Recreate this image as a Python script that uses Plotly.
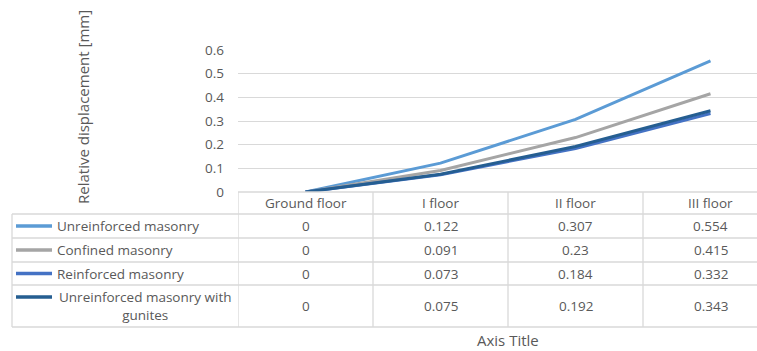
import plotly.graph_objects as go

categories = ["Ground floor", "I floor", "II floor", "III floor"]
series_names = ["Unreinforced masonry", "Confined masonry", "Reinforced masonry",
                "Unreinforced masonry with<br>gunites"]
unreinforced = [0, 0.122, 0.307, 0.554]
confined = [0, 0.091, 0.23, 0.415]
reinforced = [0, 0.073, 0.184, 0.332]
gunites = [0, 0.075, 0.192, 0.343]
table_labels = [["0", "0.122", "0.307", "0.554"],
                ["0", "0.091", "0.23", "0.415"],
                ["0", "0.073", "0.184", "0.332"],
                ["0", "0.075", "0.192", "0.343"]]
y_ticks = [0, 0.1, 0.2, 0.3, 0.4, 0.5, 0.6]
y_tick_labels = ["0", "0.1", "0.2", "0.3", "0.4", "0.5", "0.6"]

W, H = 757, 351
colors = ["#5B9BD5", "#A5A5A5", "#4472C4", "#255E91"]
FONT = "Open Sans"
TXT = "#595959"
GRID = "#D9D9D9"
FS = 13.5
FS_TITLE = 15

def px(x):
    return x / W

def py(y):
    return 1 - y / H

fig = go.Figure()
all_series = [unreinforced, confined, reinforced, gunites]
for name, vals, c in zip(series_names, all_series, colors):
    fig.add_trace(go.Scatter(x=list(range(len(categories))), y=vals, mode="lines",
                             line=dict(color=c, width=3), name=name, showlegend=False))

plot_left, plot_top, plot_bottom = 238, 50, 192
unit = 135
x_right = -0.5 + (W - plot_left) / unit

fig.update_layout(
    width=W, height=H, margin=dict(l=0, r=0, t=0, b=0, autoexpand=False),
    paper_bgcolor="white", plot_bgcolor="white",
    font=dict(family=FONT, color=TXT, size=FS),
    xaxis=dict(domain=[px(plot_left), 1], range=[-0.5, x_right], showticklabels=False,
               showgrid=False, zeroline=False, showline=False, fixedrange=True,
               automargin=False),
    yaxis=dict(domain=[py(plot_bottom), py(plot_top)], range=[0, 0.6],
               tickvals=y_ticks, ticktext=y_tick_labels, showgrid=True, gridcolor=GRID,
               gridwidth=1.3, zeroline=False, showline=False, ticks="", automargin=False,
               ticklabelstandoff=13, tickfont=dict(size=FS, color=TXT, family=FONT)),
)

row_edges = [214, 238, 262, 285, 327]
shapes = []
line_style = dict(color=GRID, width=1.3)
shapes.append(dict(type="line", xref="x", yref="paper", x0=-0.5, x1=x_right + 1,
                   y0=py(192), y1=py(192), line=line_style))
for ry in row_edges:
    shapes.append(dict(type="line", xref="paper", yref="paper", x0=px(12), x1=1.05,
                       y0=py(ry), y1=py(ry), line=line_style))
shapes.append(dict(type="line", xref="paper", yref="paper", x0=px(12), x1=px(12),
                   y0=py(214), y1=py(327), line=line_style))
for i in range(len(categories)):
    shapes.append(dict(type="line", xref="x", yref="paper", x0=i - 0.5, x1=i - 0.5,
                       y0=py(192), y1=py(327), line=line_style))

row_centers = [226, 250, 273.5, 306]
annotations = []

def ann(x, y, text, xref="paper", xanchor="center", size=FS, **kw):
    annotations.append(dict(x=x, y=y, xref=xref, yref="paper", text=text, showarrow=False,
                            xanchor=xanchor, yanchor="middle",
                            font=dict(size=size, color=TXT, family=FONT), **kw))

for i, cat in enumerate(categories):
    ann(i, py(203), cat, xref="x")
for r, row in enumerate(table_labels):
    for i, t in enumerate(row):
        ann(i, py(row_centers[r]), t, xref="x")
    ky = row_centers[r] - (9 if r == 3 else 0)
    shapes.append(dict(type="line", xref="paper", yref="paper", x0=px(16), x1=px(52),
                       y0=py(ky), y1=py(ky), line=dict(color=colors[r], width=3.5)))
    if r < 3:
        ann(px(55), py(row_centers[r]), series_names[r], xanchor="left")
    else:
        ann(px(145), py(row_centers[r]), series_names[r], align="center")

ann(px(508), py(340), "Axis Title", size=FS_TITLE)
ann(px(83), py(107), "Relative displacement [mm]", size=FS_TITLE, textangle=-90)

fig.update_layout(shapes=shapes, annotations=annotations)
fig.write_html("out.html")
